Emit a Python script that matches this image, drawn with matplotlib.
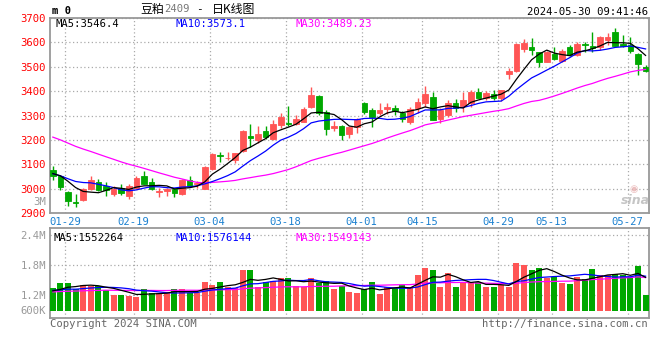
import matplotlib
matplotlib.use("Agg")
import matplotlib.pyplot as plt
import matplotlib.transforms as mtransforms
import numpy as np

# ---- data (M2409 soybean meal, daily) ----
opens = [3075, 3051, 2986, 2946, 2952, 2999, 3027, 3011, 2976, 3004,
         2969, 3001, 3052, 3027, 2988, 2990, 3000, 2976, 3035, 3020,
         3000, 3081, 3138, 3124, 3118, 3156, 3216, 3200, 3237, 3202,
         3261, 3271, 3265, 3275, 3336, 3378, 3316, 3248, 3258, 3224,
         3254, 3350, 3323, 3312, 3327, 3332, 3312, 3275, 3332, 3353,
         3377, 3285, 3302, 3353, 3340, 3350, 3398, 3373, 3390, 3373,
         3472, 3484, 3573, 3580, 3559, 3521, 3551, 3525, 3580, 3548,
         3593, 3585, 3580, 3610, 3644, 3593, 3589, 3552, 3499]
closes = [3050, 3008, 2948, 2940, 2997, 3035, 2996, 2996, 2997, 2983,
          3011, 3045, 3021, 3000, 2990, 3000, 2983, 3035, 3011, 3022,
          3088, 3142, 3135, 3127, 3145, 3235, 3209, 3224, 3213, 3265,
          3295, 3264, 3284, 3325, 3384, 3309, 3245, 3257, 3220, 3254,
          3284, 3316, 3293, 3323, 3336, 3320, 3285, 3327, 3357, 3387,
          3282, 3323, 3353, 3332, 3364, 3397, 3373, 3391, 3373, 3404,
          3481, 3593, 3596, 3569, 3521, 3562, 3532, 3565, 3548, 3593,
          3588, 3576, 3621, 3621, 3587, 3587, 3564, 3510, 3484]
highs = [3092, 3055, 2990, 2976, 3004, 3050, 3040, 3027, 3011, 3020,
         3018, 3050, 3073, 3044, 3004, 3004, 3004, 3038, 3050, 3032,
         3093, 3145, 3149, 3149, 3148, 3241, 3265, 3257, 3257, 3282,
         3309, 3339, 3302, 3334, 3418, 3385, 3323, 3279, 3262, 3258,
         3288, 3357, 3332, 3350, 3350, 3343, 3320, 3336, 3371, 3421,
         3398, 3330, 3364, 3368, 3398, 3405, 3412, 3402, 3405, 3405,
         3496, 3597, 3614, 3617, 3562, 3565, 3582, 3573, 3590, 3603,
         3603, 3641, 3626, 3637, 3658, 3630, 3621, 3555, 3507]
lows = [3035, 2994, 2927, 2923, 2950, 2995, 2990, 2968, 2968, 2972,
        2958, 2999, 3018, 2996, 2965, 2968, 2965, 2972, 3006, 3004,
        2998, 3078, 3108, 3118, 3107, 3152, 3170, 3186, 3202, 3200,
        3248, 3257, 3261, 3275, 3330, 3302, 3220, 3238, 3200, 3207,
        3227, 3305, 3254, 3302, 3305, 3302, 3275, 3265, 3309, 3336,
        3280, 3271, 3295, 3316, 3316, 3336, 3370, 3365, 3364, 3360,
        3450, 3480, 3562, 3548, 3500, 3518, 3528, 3521, 3545, 3545,
        3562, 3562, 3569, 3589, 3585, 3582, 3555, 3466, 3477]
volumes = [1346000, 1446000, 1446000, 1313000, 1400000, 1380000, 1387000, 1300000, 1200000, 1200000,
           1187000, 1167000, 1320000, 1233000, 1233000, 1233000, 1320000, 1320000, 1233000, 1247000,
           1460000, 1400000, 1460000, 1367000, 1333000, 1700000, 1700000, 1367000, 1460000, 1480000,
           1550000, 1550000, 1380000, 1367000, 1550000, 1446000, 1480000,
           1320000, 1387000, 1267000, 1247000, 1320000, 1460000, 1220000, 1367000, 1347000, 1400000,
           1367000, 1600000,
           1750000, 1700000, 1367000, 1650000, 1367000, 1433000, 1433000, 1460000, 1367000, 1367000,
           1400000, 1367000, 1850000, 1800000, 1700000, 1750000, 1533000, 1560000, 1441850, 1417000,
           1560000, 1530000, 1720000, 1600000, 1590120,
           1620000, 1600000, 1560000, 1790000, 1191320]

# sessions before the window, only needed so the moving averages start at the left edge
pre_closes = [3352, 3345, 3338, 3330, 3335, 3322, 3318, 3310, 3305, 3298,
              3290, 3284, 3276, 3270, 3262, 3255, 3248, 3240, 3220, 3130,
              3095, 3070, 3052, 3040, 3048, 3055, 3060, 3068, 3076]
pre_volumes = [1210000, 1280000, 1190000, 1250000, 1230000, 1300000, 1180000, 1260000, 1240000, 1220000,
               1270000, 1200000, 1250000, 1290000, 1230000, 1210000, 1260000, 1240000, 1280000, 1330000,
               1350000, 1300000, 1320000, 1280000, 1260000, 1300000, 1230000, 1250000, 1290000]

date_labels = ["01-29", "02-19", "03-04", "03-18", "04-01", "04-15", "04-29", "05-13", "05-27"]
date_index = [2, 11, 21, 31, 41, 49, 59, 66, 76]
price_ticks = [3700, 3600, 3500, 3400, 3300, 3200, 3100, 3000, 2900]
vol_ticks = [2400000, 1800000, 1200000]
vol_tick_labels = ["2.4M", "1.8M", "1.2M"]

RED = "#ff5555"
GREEN = "#00a800"
GRID = "#aaaaaa"
MONO = "DejaVu Sans Mono"
CJK = ["Noto Sans CJK SC", "DejaVu Sans"]
W, H = 660, 360


def ma(values, pre, n):
    s = np.concatenate([pre, values]).astype(float)
    k = np.convolve(s, np.ones(n) / n, mode="valid")
    return k[len(s) - n + 1 - len(values):]


def px(x, y):
    return x / W, 1 - y / H


def axes_px(left, top, right, bottom):
    return fig.add_axes([left / W, 1 - bottom / H, (right - left) / W, (bottom - top) / H])


o = np.array(opens); c = np.array(closes)
hi = np.array(highs); lo = np.array(lows)
vol = np.array(volumes)
n = len(c)
x = np.arange(n)
up = c >= o
colors = np.where(up, RED, GREEN)

fig = plt.figure(figsize=(W / 100, H / 100), dpi=100)
fig.patch.set_facecolor("white")

ax = axes_px(50, 18, 649, 213)
axv = axes_px(50, 228, 649, 318)

xmin, xmax = -0.37, 78.45
grid_x = np.array(date_index) - 0.36
LW = 0.9

# ---- price panel ----
ax.vlines(x, lo, hi, colors=colors, linewidth=1, zorder=3)
ax.bar(x, np.maximum(np.abs(c - o), 1.5), bottom=np.minimum(o, c), width=0.72,
       color=colors, edgecolor=colors, linewidth=0.6, zorder=4)
ax.plot(x, ma(c, pre_closes, 30), color="#ff00ff", lw=LW, zorder=5)
ax.plot(x, ma(c, pre_closes, 10), color="#0000ff", lw=LW, zorder=5)
ax.plot(x, ma(c, pre_closes, 5), color="#000000", lw=LW, zorder=6)

ax.set_xlim(xmin, xmax)
ax.set_ylim(2900, 3700)
ax.set_yticks(price_ticks)
ax.set_yticklabels([str(t) for t in price_ticks], color="#ff0000", family=MONO, fontsize=7.6)
ax.set_xticks(grid_x)
ax.set_xticklabels(date_labels, color="#1a80d0", family=MONO, fontsize=7.6)
ax.tick_params(length=0, pad=3)
ax.grid(True, color=GRID, linestyle=(0, (1, 2)), linewidth=0.9)
for s in ax.spines.values():
    s.set_color("#999999"); s.set_linewidth(1.3)

# ---- volume panel ----
vol_lo, vol_hi, vol_base = 740000, 2540000, 880000
axv.bar(x, vol - vol_base, bottom=vol_base, width=0.78, color=colors, zorder=3)
axv.plot(x, ma(vol, pre_volumes, 30), color="#ff00ff", lw=LW, zorder=5)
axv.plot(x, ma(vol, pre_volumes, 10), color="#0000ff", lw=LW, zorder=5)
axv.plot(x, ma(vol, pre_volumes, 5), color="#000000", lw=LW, zorder=6)
axv.set_xlim(xmin, xmax)
axv.set_ylim(vol_lo, vol_hi)
axv.set_yticks(vol_ticks)
axv.set_yticklabels(vol_tick_labels, color="#999999", family=MONO, fontsize=7.6)
# sina prints the volume labels a few pixels above their grid lines
lift = mtransforms.ScaledTranslation(0, 4 / 100, fig.dpi_scale_trans)
for lab in axv.get_yticklabels():
    lab.set_transform(lab.get_transform() + lift)
axv.set_xticks(grid_x)
axv.set_xticklabels([])
axv.tick_params(length=0, pad=3)
axv.grid(True, color=GRID, linestyle=(0, (1, 2)), linewidth=0.9)
for s in axv.spines.values():
    s.set_color("#999999"); s.set_linewidth(1.3)

# ---- header / legend texts ----
txt = dict(family=MONO, fontsize=7.6, va="center")
fig.text(*px(52, 11), "m 0", fontweight="bold", **txt)
fig.text(*px(140, 9), "豆粕", family=CJK, fontsize=8.6, va="center")
fig.text(*px(164, 9), "2409", family=MONO, fontsize=7.6, color="#777777", va="center")
fig.text(*px(199, 9), "-", family=MONO, fontsize=8, ha="center", va="center")
fig.text(*px(212, 9), "日K线图", family=CJK, fontsize=8.6, va="center")
fig.text(*px(648, 12), "2024-05-30 09:41:46", ha="right", **txt)

ma5_p, ma10_p, ma30_p = ma(c, pre_closes, 5)[-1], ma(c, pre_closes, 10)[-1], ma(c, pre_closes, 30)[-1]
fig.text(*px(55, 24), f"MA5:{ma5_p:.1f}", color="black", **txt)
fig.text(*px(175, 24), f"MA10:{ma10_p:.1f}", color="#0000ff", **txt)
fig.text(*px(295, 24), f"MA30:{ma30_p:.2f}", color="#ff00ff", **txt)

ma5_v, ma10_v, ma30_v = ma(vol, pre_volumes, 5)[-1], ma(vol, pre_volumes, 10)[-1], ma(vol, pre_volumes, 30)[-1]
fig.text(*px(53, 238), f"MA5:{ma5_v:.0f}", color="black", **txt)
fig.text(*px(175, 238), f"MA10:{ma10_v:.0f}", color="#0000ff", **txt)
fig.text(*px(295, 238), f"MA30:{ma30_v:.0f}", color="#ff00ff", **txt)

fig.text(*px(46, 202), "3M", color="#999999", ha="right", **txt)
fig.text(*px(46, 311), "600K", color="#999999", ha="right", **txt)
fig.text(*px(50, 324), "Copyright 2024 SINA.COM", color="#666666", **txt)
fig.text(*px(648, 324), "http://finance.sina.com.cn", color="#666666", ha="right", **txt)
fig.text(*px(635, 200), "sina", color="#bbbbbb", fontsize=9, fontweight="bold",
         style="italic", ha="center", va="center", alpha=0.85)
fig.text(*px(634, 189), "◉", color="#e8b0b0", fontsize=7, ha="center", va="center", alpha=0.8)

fig.savefig("out.png", dpi=100, facecolor="white")
